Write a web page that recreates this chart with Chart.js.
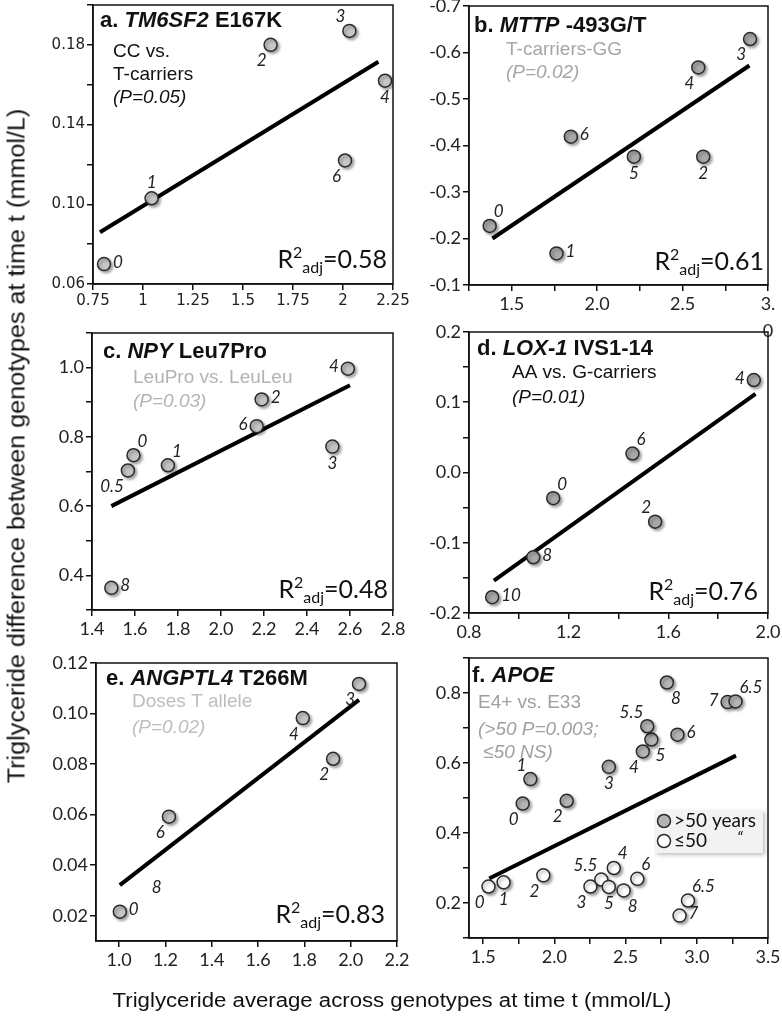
<!DOCTYPE html>
<html>
<head>
<meta charset="utf-8">
<script src="https://cdn.jsdelivr.net/npm/chart.js@4.4.1/dist/chart.umd.min.js"></script>
<style>
  body { margin: 0; background: #fff; width: 782px; height: 1021px; position: relative; overflow: hidden; }
  canvas { position: absolute; }
  .axt { position: absolute; white-space: nowrap; color: #111; font-family: "Liberation Sans Narrow", "Liberation Sans", Arial, sans-serif; }
</style>
</head>
<body>
<canvas id="pa"></canvas>
<canvas id="pb"></canvas>
<canvas id="pc"></canvas>
<canvas id="pd"></canvas>
<canvas id="pe"></canvas>
<canvas id="pf"></canvas>
<div id="yTitle" class="axt">Triglyceride difference between genotypes at time t (mmol/L)</div>
<div id="xTitle" class="axt">Triglyceride average across genotypes at time t (mmol/L)</div>
<script>
// a. TM6SF2 E167K
const aX = [0.805, 1.043, 1.638, 2.032, 2.21, 2.01];
const aY = [0.070, 0.103, 0.180, 0.187, 0.162, 0.122];
const aLabels = ["0", "1", "2", "3", "4", "6"];
const aFitX = [0.785, 2.177];
const aFitY = [0.086, 0.1715];
const aXTicks = [0.75, 1, 1.25, 1.5, 1.75, 2, 2.25];
const aXTickLabels = ["0.75", "1", "1.25", "1.5", "1.75", "2", "2.25"];
const aYTicks = [0.06, 0.08, 0.10, 0.12, 0.14, 0.16, 0.18, 0.20];
const aYTickLabels = ["0.06", "", "0.10", "", "0.14", "", "0.18", ""];

// b. MTTP -493G/T
const bX = [1.371, 1.762, 1.846, 2.215, 2.621, 2.592, 2.895];
const bY = [-0.227, -0.168, -0.419, -0.376, -0.376, -0.568, -0.629];
const bLabels = ["0", "1", "6", "5", "2", "4", "3"];
const bFitX = [1.387, 2.891];
const bFitY = [-0.2, -0.572];
const bXTicks = [1.25, 1.5, 1.75, 2.0, 2.25, 2.5, 2.75, 3.0];
const bXTickLabels = ["", "1.5", "", "2.0", "", "2.5", "", "3."];
const bYTicks = [-0.7, -0.6, -0.5, -0.4, -0.3, -0.2, -0.1];
const bYTickLabels = ["-0.7", "-0.6", "-0.5", "-0.4", "-0.3", "-0.2", "-0.1"];

// c. NPY Leu7Pro
const cX = [1.567, 1.593, 1.753, 2.166, 2.189, 2.518, 2.59, 1.49];
const cY = [0.703, 0.747, 0.718, 0.831, 0.908, 0.772, 0.997, 0.364];
const cLabels = ["0.5", "0", "1", "6", "2", "3", "4", "8"];
const cFitX = [1.49, 2.6];
const cFitY = [0.6, 0.949];
const cXTicks = [1.4, 1.6, 1.8, 2.0, 2.2, 2.4, 2.6, 2.8];
const cXTickLabels = ["1.4", "1.6", "1.8", "2.0", "2.2", "2.4", "2.6", "2.8"];
const cYTicks = [0.3, 0.4, 0.5, 0.6, 0.7, 0.8, 0.9, 1.0, 1.1];
const cYTickLabels = ["", "0.4", "", "0.6", "", "0.8", "", "1.0", ""];

// d. LOX-1 IVS1-14
const dX = [0.893, 1.058, 1.138, 1.456, 1.547, 1.943];
const dY = [-0.1775, -0.1207, -0.0365, 0.027, -0.070, 0.1316];
const dLabels = ["10", "8", "0", "6", "2", "4"];
const dFitX = [0.9, 1.95];
const dFitY = [-0.154, 0.112];
const dXTicks = [0.8, 1.0, 1.2, 1.4, 1.6, 1.8, 2.0];
const dXTickLabels = ["0.8", "", "1.2", "", "1.6", "", "2.0"];
const dYTicks = [-0.2, -0.15, -0.1, -0.05, 0, 0.05, 0.1, 0.15, 0.2];
const dYTickLabels = ["-0.2", "", "-0.1", "", "0.0", "", "0.1", "", "0.2"];

// e. ANGPTL4 T266M
const eX = [1.003, 1.215, 1.793, 1.924, 2.036];
const eY = [0.0216, 0.0592, 0.0982, 0.0821, 0.1117];
const eLabels = ["0", "6", "4", "2", "3"];
const eFitX = [1.003, 2.036];
const eFitY = [0.0321, 0.1054];
const eNoteX = [1.162];
const eNoteY = [0.0313];
const eNoteText = ["8"];
const eXTicks = [1.0, 1.2, 1.4, 1.6, 1.8, 2.0, 2.2];
const eXTickLabels = ["1.0", "1.2", "1.4", "1.6", "1.8", "2.0", "2.2"];
const eYTicks = [0.02, 0.04, 0.06, 0.08, 0.10, 0.12];
const eYTickLabels = ["0.02", "0.04", "0.06", "0.08", "0.10", "0.12"];

// f. APOE
const fOldX = [1.777, 1.831, 2.086, 2.382, 2.621, 2.681, 2.652, 2.864, 2.79, 3.216, 3.272];
const fOldY = [0.484, 0.554, 0.492, 0.589, 0.633, 0.667, 0.705, 0.681, 0.830, 0.774, 0.776];
const fOldLabels = ["0", "1", "2", "3", "4", "5", "5.5", "6", "8", "7", "6.5"];
const fYoungX = [1.537, 1.643, 1.922, 2.253, 2.329, 2.382, 2.417, 2.486, 2.582, 2.938, 2.879];
const fYoungY = [0.247, 0.259, 0.279, 0.247, 0.267, 0.246, 0.300, 0.236, 0.269, 0.207, 0.164];
const fYoungLabels = ["0", "1", "2", "3", "5.5", "5", "4", "8", "6", "6.5", "7"];
const fFitX = [1.542, 3.275];
const fFitY = [0.27, 0.621];
const fXTicks = [1.5, 1.75, 2.0, 2.25, 2.5, 2.75, 3.0, 3.25, 3.5];
const fXTickLabels = ["1.5", "", "2.0", "", "2.5", "", "3.0", "", "3.5"];
const fYTicks = [0.1, 0.2, 0.3, 0.4, 0.5, 0.6, 0.7, 0.8, 0.9];
const fYTickLabels = ["", "0.2", "", "0.4", "", "0.6", "", "0.8", ""];
const fLegendLabels = [">50 years", "≤50"];

// where each point label sits relative to its marker
const aPos = ["r", "t", "bl", "tl", "b", "bl"];
const bPos = ["tr", "r", "r", "b", "b", "bl", "bl"];
const cPos = ["bl", "tr", "tr", "l", "r", "b", "l", "r"];
const dPos = ["r", "r", "tr", "tr", "tl", "l"];
const ePos = ["r", "bl", "bl", "bl", "bl"];
const fOldPos = ["bl", "tl", "bl", "b", "bl", "br", "tl", "r", "br", "l", "tr"];
const fYoungPos = ["bl", "b", "bl", "bl", "tl", "b", "tr", "br", "tr", "tr", "r"];

const OFF = {
  r: [9, -2, "left"], l: [-9, -2, "right"], t: [0, -16, "center"], b: [0, 17, "center"],
  tl: [-4, -14, "right"], tr: [4, -14, "left"], bl: [-4, 16, "right"], br: [4, 16, "left"]
};

const pts = (xs, ys) => xs.map((x, i) => ({ x, y: ys[i] }));
const HEAD = '"Liberation Sans", Arial, sans-serif';
const NUM = 'Lato, "Open Sans", sans-serif';

function axis(range, ticks, labels, font, reverse) {
  return {
    type: "linear",
    min: range[0],
    max: range[1],
    reverse: !!reverse,
    afterBuildTicks: (s) => { s.ticks = ticks.map((v) => ({ value: v })); },
    ticks: { callback: (v, i) => labels[i], autoSkip: false, maxRotation: 0, color: "#222", font, padding: 2 },
    grid: { drawOnChartArea: false, drawTicks: true, tickLength: 6, color: "#111", lineWidth: 1.5 },
    border: { display: true, color: "#111", width: 1.5 }
  };
}

function drawSegs(ctx, segs, x, y, size, color) {
  ctx.fillStyle = color;
  ctx.textAlign = "left";
  ctx.textBaseline = "alphabetic";
  segs.forEach(([text, style]) => {
    ctx.font = `${style} ${size}px ${HEAD}`;
    ctx.fillText(text, x, y);
    x += ctx.measureText(text).width;
  });
}

function drawR2(ctx, val, right, base) {
  const big = `25px ${NUM}`;
  const small = `16px ${NUM}`;
  ctx.font = big;
  const wR = ctx.measureText("R").width;
  const wEq = ctx.measureText("=" + val).width;
  ctx.font = small;
  const w2 = ctx.measureText("2").width;
  const wAdj = ctx.measureText("adj").width;
  let x = right - (wR + w2 + wAdj + wEq);
  ctx.fillStyle = "#111";
  ctx.textAlign = "left";
  ctx.textBaseline = "alphabetic";
  ctx.font = big; ctx.fillText("R", x, base); x += wR;
  ctx.font = small; ctx.fillText("2", x, base - 10); x += w2;
  ctx.fillText("adj", x, base + 5); x += wAdj;
  ctx.font = big; ctx.fillText("=" + val, x, base);
}

function build(p) {
  const cv = document.getElementById(p.id);
  const padT = 14, padR = 26, yW = 62, xH = 40, padB = 34;
  const w = p.box.r - p.box.l;
  const h = p.box.b - p.box.t;
  cv.width = w + yW + padR;
  cv.height = h + padT + xH + padB;
  cv.style.left = (p.box.l - yW) + "px";
  cv.style.top = (p.box.t - padT) + "px";

  const datasets = p.series.map((s) => ({
    type: "scatter",
    data: pts(s.x, s.y),
    backgroundColor: s.fill,
    borderColor: "#2a2a2a",
    borderWidth: 1.5,
    pointRadius: 6.5,
    shadow: true,
    ptLabels: s.labels,
    ptPos: s.pos,
    order: 1
  }));
  datasets.push({
    type: "line",
    data: pts(p.fit.x, p.fit.y),
    borderColor: "#000",
    borderWidth: 4,
    pointRadius: 0,
    showLine: true,
    order: 5
  });

  const deco = {
    id: "deco" + p.id,
    beforeDatasetDraw(chart, args) {
      if (!chart.data.datasets[args.index].shadow) return;
      const c = chart.ctx;
      c.save();
      c.shadowColor = "rgba(0,0,0,0.35)";
      c.shadowBlur = 3;
      c.shadowOffsetX = 2;
      c.shadowOffsetY = 2;
    },
    afterDatasetDraw(chart, args) {
      if (chart.data.datasets[args.index].shadow) chart.ctx.restore();
    },
    afterDraw(chart) {
      const ctx = chart.ctx;
      const a = chart.chartArea;
      ctx.save();
      ctx.strokeStyle = "#111";
      ctx.lineWidth = 1.5;
      ctx.strokeRect(a.left, a.top, a.right - a.left, a.bottom - a.top);

      // point labels
      ctx.fillStyle = "#222";
      ctx.textBaseline = "middle";
      ctx.font = `italic 17px ${NUM}`;
      chart.data.datasets.forEach((ds, di) => {
        if (!ds.ptLabels) return;
        chart.getDatasetMeta(di).data.forEach((el, i) => {
          const o = OFF[ds.ptPos[i]];
          ctx.textAlign = o[2];
          ctx.fillText(ds.ptLabels[i], el.x + o[0], el.y + o[1]);
        });
      });
      if (p.notes) {
        p.notes.x.forEach((v, i) => {
          ctx.textAlign = "center";
          ctx.fillText(p.notes.text[i], chart.scales.x.getPixelForValue(v), chart.scales.y.getPixelForValue(p.notes.y[i]));
        });
      }

      // wrapped last digit of the "3.0" tick label in panel b
      if (p.wrapTick) {
        ctx.fillStyle = "#222";
        ctx.font = `18px ${NUM}`;
        ctx.textAlign = "center";
        ctx.textBaseline = "middle";
        ctx.fillText(p.wrapTick.text, chart.scales.x.getPixelForValue(p.wrapTick.at), a.bottom + 46);
      }

      // header and subtitle lines
      drawSegs(ctx, p.head, a.left + p.headAt[0], a.top + p.headAt[1], 22, "#111");
      p.sub.forEach(([text, dx, dy, ital]) => {
        drawSegs(ctx, [[text, ital ? "italic" : "normal"]], a.left + dx, a.top + dy, 19, p.subColor);
      });
      if (p.r2) drawR2(ctx, p.r2, a.right - p.r2At[1], a.top + p.r2At[0]);

      if (p.legend) {
        const lx = a.left + 186, ly = a.top + 152;
        ctx.save();
        ctx.shadowColor = "rgba(0,0,0,0.25)";
        ctx.shadowBlur = 4;
        ctx.shadowOffsetX = 2;
        ctx.shadowOffsetY = 2;
        ctx.fillStyle = "#f2f2f2";
        ctx.fillRect(lx, ly, 108, 43);
        ctx.restore();
        p.series.forEach((s, i) => {
          const cy = ly + 11 + i * 20;
          ctx.beginPath();
          ctx.arc(lx + 9, cy, 6.5, 0, Math.PI * 2);
          ctx.fillStyle = s.fill;
          ctx.fill();
          ctx.lineWidth = 1.5;
          ctx.strokeStyle = "#2a2a2a";
          ctx.stroke();
          ctx.fillStyle = "#111";
          ctx.font = `19px ${NUM}`;
          ctx.textAlign = "left";
          ctx.textBaseline = "middle";
          ctx.fillText(fLegendLabels[i], lx + 19, cy);
        });
        ctx.font = `italic 17px ${NUM}`;
        ctx.fillText("“", lx + 82, ly + 29);
      }
      ctx.restore();
    }
  };

  const xAxis = axis(p.xRange, p.xTicks, p.xLabels, p.tickFont);
  xAxis.afterFit = (s) => { s.height = xH; };
  const yAxis = axis(p.yRange, p.yTicks, p.yLabels, p.tickFont, p.yReverse);
  yAxis.afterFit = (s) => { s.width = yW; };

  new Chart(cv, {
    type: "scatter",
    data: { datasets },
    options: {
      responsive: false,
      animation: false,
      layout: { padding: { top: padT, right: padR, bottom: padB, left: 0 } },
      plugins: { legend: { display: false }, tooltip: { enabled: false } },
      scales: { x: xAxis, y: yAxis }
    },
    plugins: [deco]
  });
}

const tickFont = { family: NUM, size: 18 };
const panels = [
  {
    id: "pa", box: { l: 93, t: 5, r: 393, b: 284 },
    xRange: [0.75, 2.25], xTicks: aXTicks, xLabels: aXTickLabels,
    yRange: [0.06, 0.20], yTicks: aYTicks, yLabels: aYTickLabels,
    tickFont: { family: '"DejaVu Sans", sans-serif', size: 15 },
    series: [{ x: aX, y: aY, labels: aLabels, pos: aPos, fill: "#c6c6c6" }],
    fit: { x: aFitX, y: aFitY },
    head: [["a. ", "bold"], ["TM6SF2", "italic bold"], [" E167K", "bold"]], headAt: [7, 22],
    sub: [["CC vs.", 20, 52, false], ["T-carriers", 20, 75, false], ["(P=0.05)", 20, 98, true]],
    subColor: "#111", r2: "0.58", r2At: [263, 6]
  },
  {
    id: "pb", box: { l: 469, t: 6, r: 768, b: 285 },
    xRange: [1.25, 3.0], xTicks: bXTicks, xLabels: bXTickLabels,
    yRange: [-0.7, -0.1], yTicks: bYTicks, yLabels: bYTickLabels, yReverse: true,
    tickFont, wrapTick: { at: 3.0, text: "0" },
    series: [{ x: bX, y: bY, labels: bLabels, pos: bPos, fill: "#a9a9a9" }],
    fit: { x: bFitX, y: bFitY },
    head: [["b. ", "bold"], ["MTTP", "italic bold"], [" -493G/T", "bold"]], headAt: [5, 26],
    sub: [["T-carriers-GG", 37, 49, false], ["(P=0.02)", 37, 72, true]],
    subColor: "#a6a6a6", r2: "0.61", r2At: [264, 4]
  },
  {
    id: "pc", box: { l: 92, t: 333, r: 393, b: 610 },
    xRange: [1.4, 2.8], xTicks: cXTicks, xLabels: cXTickLabels,
    yRange: [0.3, 1.1], yTicks: cYTicks, yLabels: cYTickLabels,
    tickFont,
    series: [{ x: cX, y: cY, labels: cLabels, pos: cPos, fill: "#c4c4c4" }],
    fit: { x: cFitX, y: cFitY },
    head: [["c. ", "bold"], ["NPY", "italic bold"], [" Leu7Pro", "bold"]], headAt: [11, 25],
    sub: [["LeuPro vs. LeuLeu", 41, 50, false], ["(P=0.03)", 41, 74, true]],
    subColor: "#b3b3b3", r2: "0.48", r2At: [265, 5]
  },
  {
    id: "pd", box: { l: 469, t: 332, r: 768, b: 613 },
    xRange: [0.8, 2.0], xTicks: dXTicks, xLabels: dXTickLabels,
    yRange: [-0.2, 0.2], yTicks: dYTicks, yLabels: dYTickLabels,
    tickFont,
    series: [{ x: dX, y: dY, labels: dLabels, pos: dPos, fill: "#a9a9a9" }],
    fit: { x: dFitX, y: dFitY },
    head: [["d. ", "bold"], ["LOX-1", "italic bold"], [" IVS1-14", "bold"]], headAt: [8, 23],
    sub: [["AA vs. G-carriers", 43, 46, false], ["(P=0.01)", 43, 71, true]],
    subColor: "#111", r2: "0.76", r2At: [268, 10]
  },
  {
    id: "pe", box: { l: 96, t: 663, r: 397, b: 941 },
    xRange: [0.9, 2.2], xTicks: eXTicks, xLabels: eXTickLabels,
    yRange: [0.01, 0.12], yTicks: eYTicks, yLabels: eYTickLabels,
    tickFont,
    series: [{ x: eX, y: eY, labels: eLabels, pos: ePos, fill: "#c4c4c4" }],
    fit: { x: eFitX, y: eFitY },
    notes: { x: eNoteX, y: eNoteY, text: eNoteText },
    head: [["e. ", "bold"], ["ANGPTL4", "italic bold"], [" T266M", "bold"]], headAt: [10, 22],
    sub: [["Doses T allele", 36, 44, false], ["(P=0.02)", 36, 70, true]],
    subColor: "#bdbdbd", r2: "0.83", r2At: [260, 12]
  },
  {
    id: "pf", box: { l: 469, t: 658, r: 768, b: 938 },
    xRange: [1.4, 3.5], xTicks: fXTicks, xLabels: fXTickLabels,
    yRange: [0.1, 0.9], yTicks: fYTicks, yLabels: fYTickLabels,
    tickFont,
    series: [
      { x: fOldX, y: fOldY, labels: fOldLabels, pos: fOldPos, fill: "#b4b4b4" },
      { x: fYoungX, y: fYoungY, labels: fYoungLabels, pos: fYoungPos, fill: "#ffffff" }
    ],
    fit: { x: fFitX, y: fFitY },
    head: [["f. ", "bold"], ["APOE", "italic bold"]], headAt: [3, 24],
    sub: [["E4+ vs. E33", 9, 50, false], ["(>50 P=0.003;", 9, 77, true], [" ≤50 NS)", 9, 100, true]],
    subColor: "#a0a0a0", legend: true
  }
];

panels.forEach(build);

// shared axis titles, stretched to the reference lengths
function placeTitle(id, cx, cy, size, target, rotate) {
  const el = document.getElementById(id);
  el.style.fontSize = size + "px";
  const c = document.createElement("canvas").getContext("2d");
  c.font = `${size}px "Liberation Sans Narrow", "Liberation Sans", Arial, sans-serif`;
  const sx = target / c.measureText(el.textContent).width;
  el.style.left = cx + "px";
  el.style.top = cy + "px";
  el.style.transform = `translate(-50%, -50%)${rotate ? " rotate(-90deg)" : ""} scaleX(${sx.toFixed(3)})`;
}
placeTitle("yTitle", 17, 446, 23, 675, true);
placeTitle("xTitle", 392, 1000, 20, 559, false);
</script>
</body>
</html>
